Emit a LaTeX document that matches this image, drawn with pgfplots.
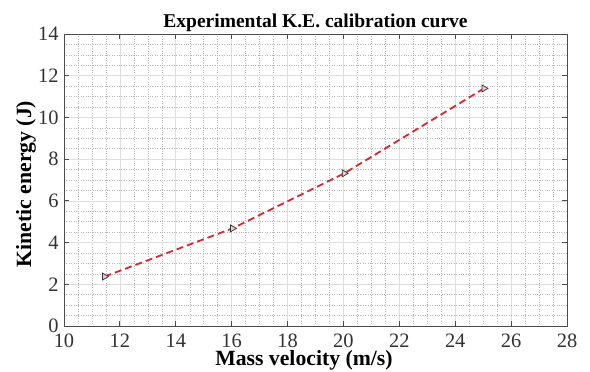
\documentclass[border=0pt]{standalone}
\usepackage{pgfplots}
\pgfplotsset{compat=1.18}
\usepackage{fontspec}
\setmainfont{Liberation Serif}
\definecolor{curvered}{RGB}{214,40,48}
\definecolor{mkfill}{RGB}{230,200,205}
\begin{document}
\begin{tikzpicture}
\begin{axis}[
  at={(0,0)}, anchor=south west,
  scale only axis, width=503bp, height=292bp,
  xmin=10, xmax=28, ymin=0, ymax=14,
  xtick={10,12,...,28}, ytick={0,2,...,14},
  minor x tick num=3, minor y tick num=3,
  grid=both,
  major grid style={draw=black!13, line width=0.7bp},
  minor grid style={draw=black!28, dotted, line width=0.5bp},
  tick align=inside,
  major tick length=5bp, minor tick length=0bp,
  axis line style={draw=black!70, line width=0.8bp},
  tick style={draw=black!70, line width=0.8bp},
  /pgf/number format/assume math mode=true,
  ticklabel style={font=\fontsize{20.5}{22}\selectfont, text=black!80},
  xticklabel style={inner sep=0pt, yshift=-8bp},
  yticklabel style={xshift=-2bp},
  title={Experimental K.E. calibration curve},
  title style={font=\bfseries\fontsize{19.6}{21}\selectfont, yshift=-7bp},
  xlabel={Mass velocity (m/s)},
  ylabel={Kinetic energy (J)},
  label style={font=\bfseries\fontsize{21.8}{24}\selectfont},
  xlabel style={at={(axis description cs:0.477,-0.1336)}, anchor=base, inner sep=0pt},
  ylabel style={at={(axis description cs:-0.0656,0.486)}, anchor=base},
]
\addplot[curvered, line width=1.8bp, dash pattern=on 7bp off 4bp,
  mark=triangle*, mark size=4bp,
  mark options={solid, rotate=-90, draw=black!80, fill=mkfill, line width=0.7bp}]
  coordinates {(11.45,2.37) (16.03,4.68) (20.03,7.32) (25.03,11.39)};
\end{axis}
\pgfresetboundingbox
\path[use as bounding box] (-64bp,-46bp) rectangle (526bp,326bp);
\end{tikzpicture}
\end{document}
